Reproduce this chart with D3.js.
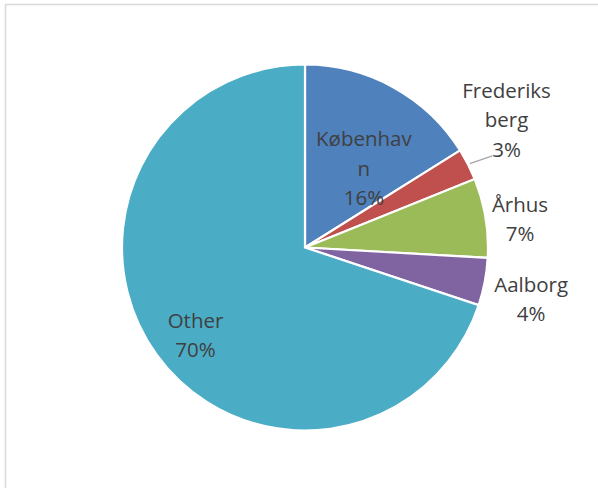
<!DOCTYPE html>
<html>
<head>
<meta charset="utf-8">
<script src="https://cdn.jsdelivr.net/npm/d3@7"></script>
<style>
  html, body { margin: 0; padding: 0; background: #fff; }
  svg { display: block; }
</style>
</head>
<body>
<svg id="chart" width="598" height="488"></svg>
<script>
// Share of population by municipality (percent)
const categories = ["København", "Frederiksberg", "Århus", "Aalborg", "Other"];
const values = [16.1, 2.8, 7.0, 4.2, 69.9];
// Label lines as they wrap inside the chart
const labelLines = [["Københav", "n"], ["Frederiks", "berg"], ["Århus"], ["Aalborg"], ["Other"]];
const colors = ["#4F81BD", "#C0504D", "#9BBB59", "#8064A2", "#4BACC6"];

// Label placement: radius as fraction of the pie radius, angular nudge in degrees
const labelRadius = [0.54, 1.303, 1.185, 1.268, 0.766];
const labelNudge = [7.6, -5.3, 1.9, 2.1, -2.8];
const leaderFor = ["Frederiksberg"];

const svg = d3.select("#chart");
const W = 598, H = 488;
const cx = 305, cy = 247.5, R = 183;

// chart area frame
svg.append("rect")
  .attr("x", 5.5).attr("y", 4.5)
  .attr("width", W + 20).attr("height", H + 20)
  .attr("fill", "#fff")
  .attr("stroke", "#d9d9d9")
  .attr("stroke-width", 1.5);

const data = categories.map((c, i) => ({ name: c, value: values[i], i }));

const pie = d3.pie().value(d => d.value).sort(null).startAngle(0).endAngle(2 * Math.PI);
const arcs = pie(data);
const arc = d3.arc().innerRadius(0).outerRadius(R);

const g = svg.append("g").attr("transform", `translate(${cx},${cy})`);

g.selectAll("path.slice")
  .data(arcs)
  .join("path")
  .attr("class", "slice")
  .attr("d", arc)
  .attr("fill", d => colors[d.data.i])
  .attr("stroke", "#fff")
  .attr("stroke-width", 2.2)
  .attr("stroke-linejoin", "miter");

const polar = (ang, r) => [r * Math.sin(ang), -r * Math.cos(ang)];
const fontSize = 20.5, lineH = 29.3, baseOff = 7.4;

// leader line for small slice labelled outside
arcs.filter(d => leaderFor.includes(d.data.name)).forEach(d => {
  const mid = (d.startAngle + d.endAngle) / 2;
  const p0 = polar(mid, R + 2);
  const p1 = polar(mid + 0.016, R * 1.14);
  g.append("line")
    .attr("x1", p0[0]).attr("y1", p0[1])
    .attr("x2", p1[0]).attr("y2", p1[1])
    .attr("stroke", "#a6a6a6")
    .attr("stroke-width", 1.3);
});

arcs.forEach(d => {
  const i = d.data.i;
  const mid = (d.startAngle + d.endAngle) / 2 + labelNudge[i] * Math.PI / 180;
  const [ax, ay] = polar(mid, R * labelRadius[i]);
  const lines = labelLines[i].concat([Math.round(d.data.value) + "%"]);
  const n = lines.length;
  const t = g.append("text")
    .attr("text-anchor", "middle")
    .attr("font-family", "'Open Sans', 'Liberation Sans', sans-serif")
    .attr("font-size", fontSize)
    .attr("fill", "#404040");
  lines.forEach((s, k) => {
    t.append("tspan")
      .attr("x", ax)
      .attr("y", ay + (k - (n - 1) / 2) * lineH + baseOff)
      .text(s);
  });
});
</script>
</body>
</html>
